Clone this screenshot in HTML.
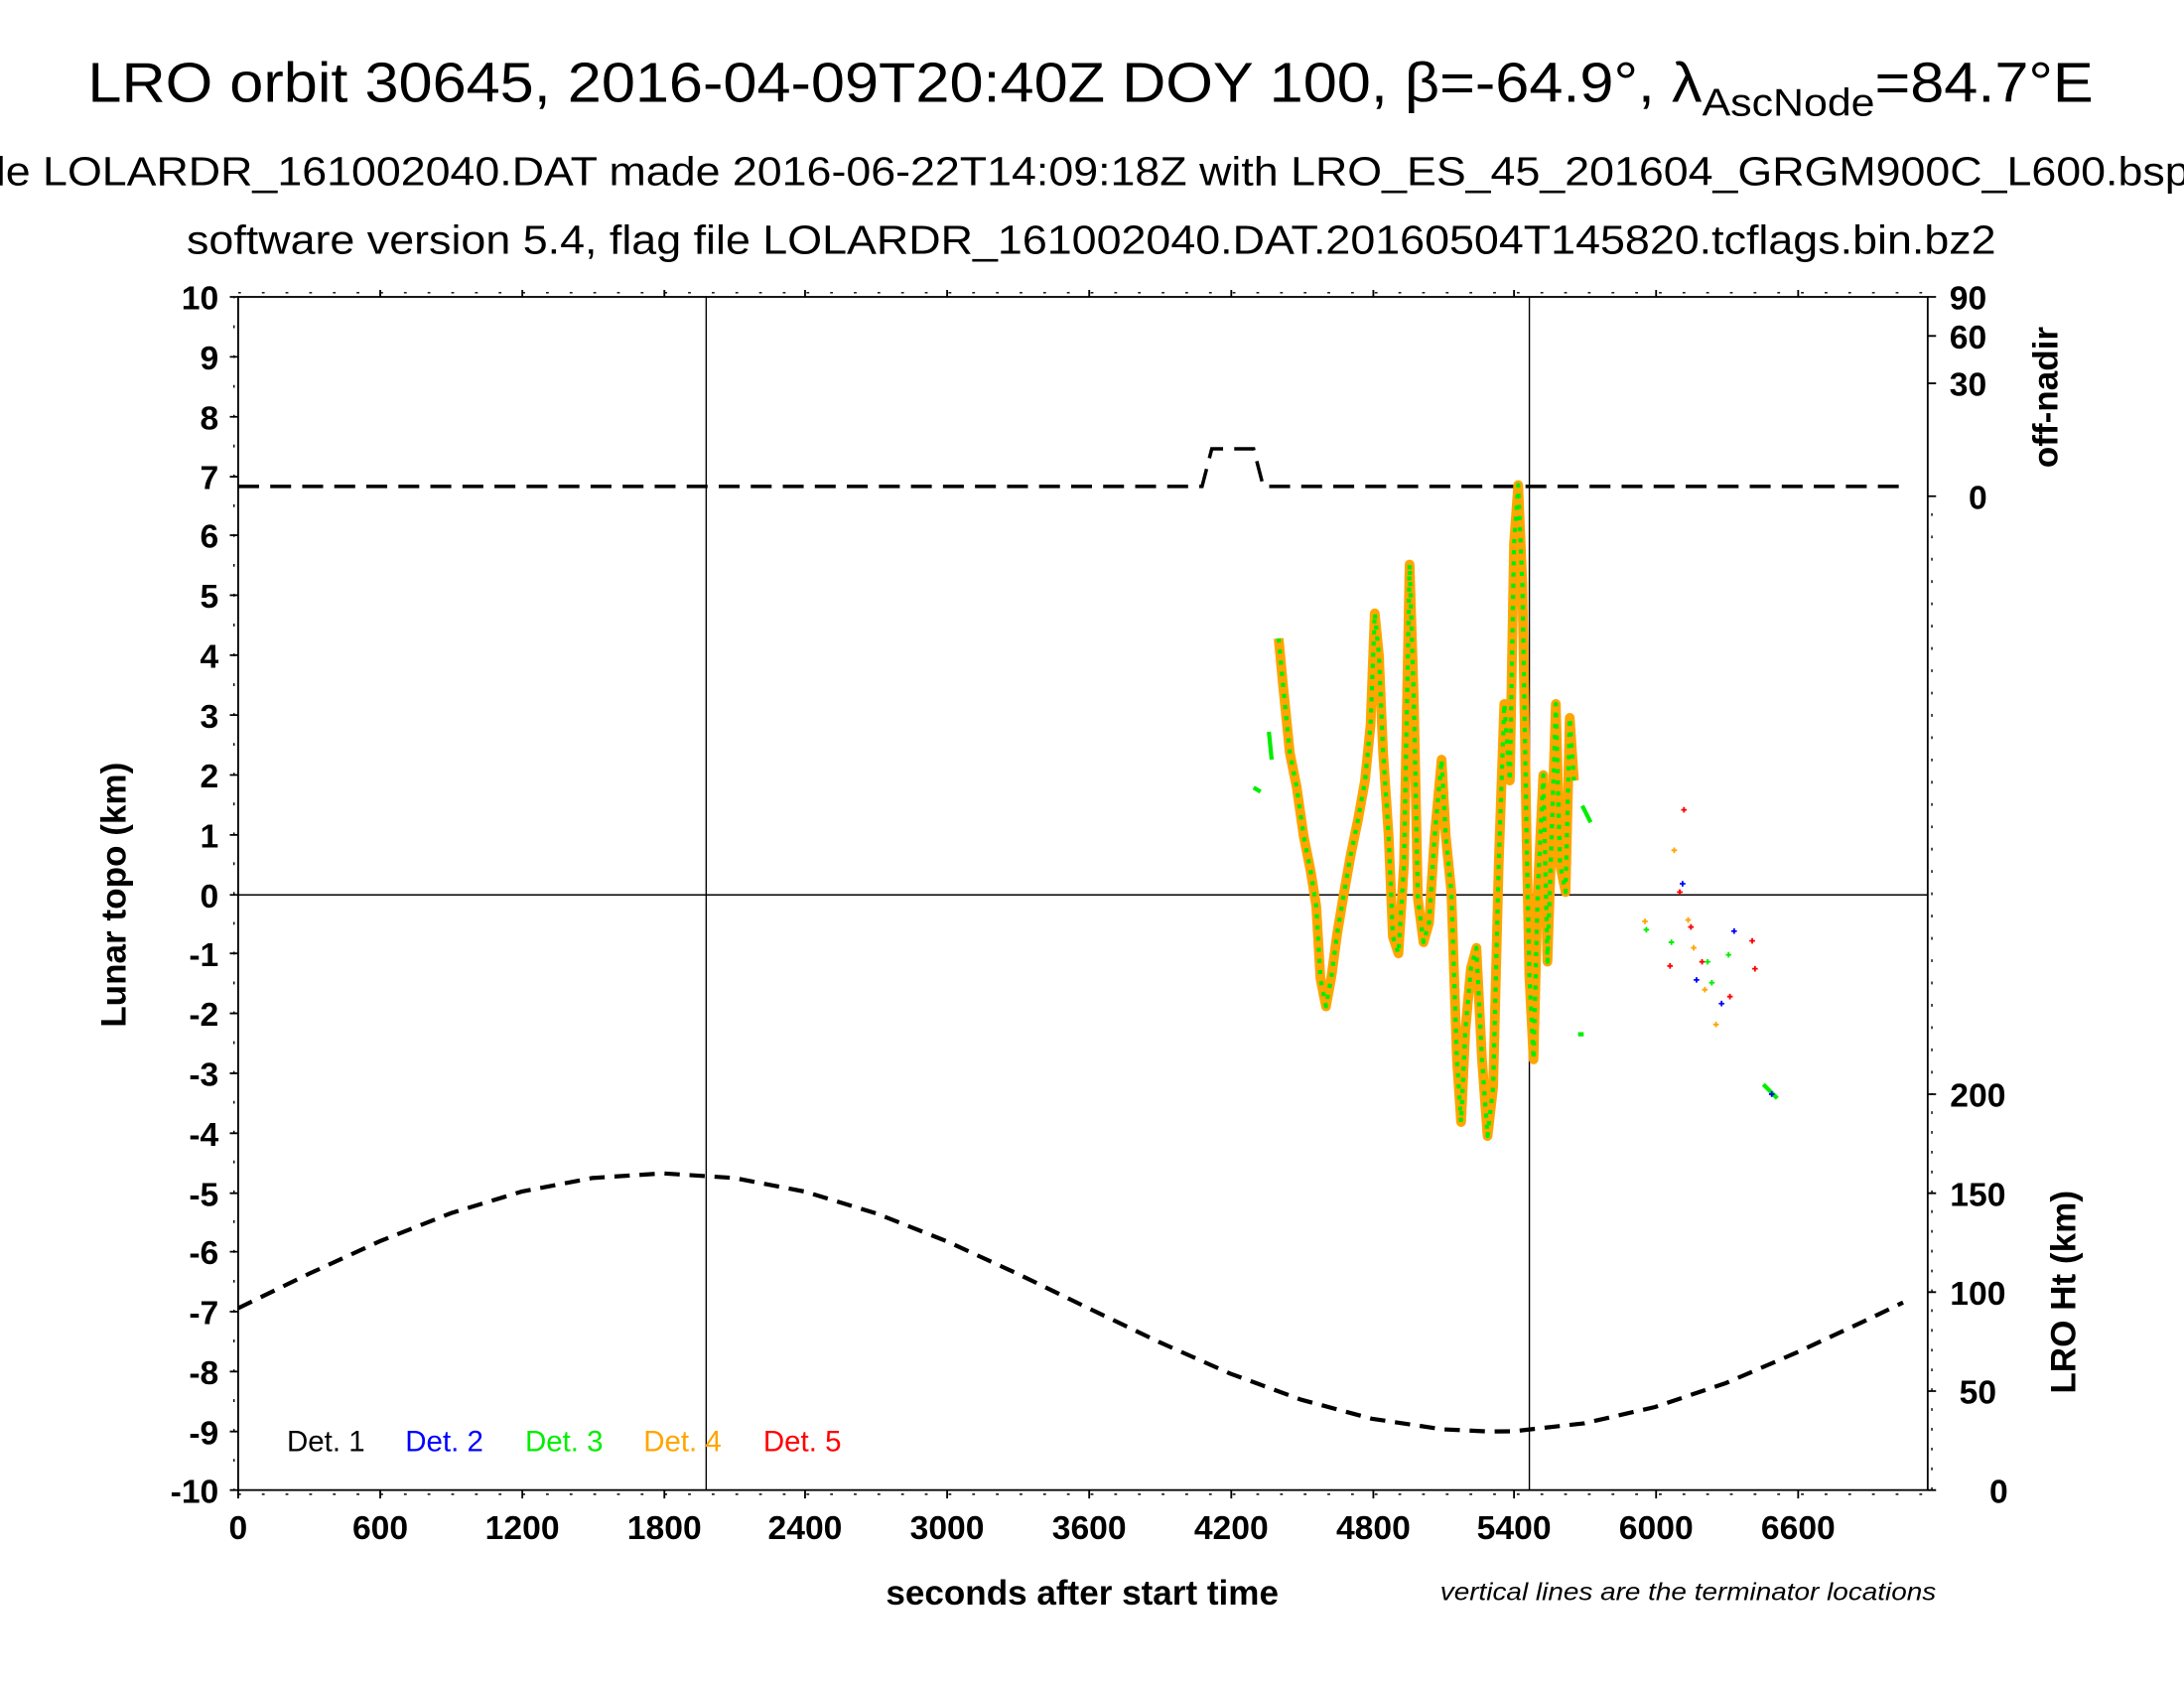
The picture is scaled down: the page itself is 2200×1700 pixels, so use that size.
<!DOCTYPE html>
<html><head><meta charset="utf-8"><style>html,body{margin:0;padding:0;background:#fff;overflow:hidden}svg{display:block}</style></head>
<body>
<svg width="2200" height="1700" viewBox="0 0 1568 1211" preserveAspectRatio="none" xmlns="http://www.w3.org/2000/svg" font-family="Liberation Sans, sans-serif">
<rect width="1568" height="1211" fill="#fff"/>
<text x="63" y="73" font-size="40" textLength="1440" lengthAdjust="spacingAndGlyphs">LRO orbit 30645, 2016-04-09T20:40Z DOY 100, β=-64.9°, λ<tspan font-size="28" dy="10">AscNode</tspan><tspan dy="-10">=84.7°E</tspan></text>
<text x="-3" y="133" font-size="29" textLength="1575" lengthAdjust="spacingAndGlyphs">le LOLARDR_161002040.DAT made 2016-06-22T14:09:18Z with LRO_ES_45_201604_GRGM900C_L600.bsp</text>
<text x="134" y="182" font-size="29" textLength="1299" lengthAdjust="spacingAndGlyphs">software version 5.4, flag file LOLARDR_161002040.DAT.20160504T145820.tcflags.bin.bz2</text>
<g stroke="#000" stroke-width="1">
<line x1="507" y1="213" x2="507" y2="1069"/>
<line x1="1098" y1="213" x2="1098" y2="1069"/>
<line x1="171" y1="642" x2="1384" y2="642"/>
</g>
<rect x="171" y="213" width="1213" height="856" fill="none" stroke="#000" stroke-width="1.3"/>
<g stroke="#000" stroke-width="1.3">
<path d="M171 213h-6M171 256h-6M171 299h-6M171 342h-6M171 384h-6M171 427h-6M171 470h-6M171 513h-6M171 556h-6M171 599h-6M171 642h-6M171 684h-6M171 727h-6M171 770h-6M171 813h-6M171 856h-6M171 898h-6M171 941h-6M171 984h-6M171 1027h-6M171 1069h-6"/>
<path d="M171 1069v6M273 1069v6M375 1069v6M477 1069v6M578 1069v6M680 1069v6M782 1069v6M884 1069v6M986 1069v6M1087 1069v6M1189 1069v6M1291 1069v6M273 213v-5M375 213v-5M477 213v-5M578 213v-5M680 213v-5M782 213v-5M884 213v-5M986 213v-5M1087 213v-5M1189 213v-5M1291 213v-5"/>
<path d="M1384 213h6M1384 241h6M1384 275h6M1384 356h6M1384 785h6M1384 856h6M1384 927h6M1384 998h6M1384 1069h6"/>
</g>
<g stroke="#000" stroke-width="1" stroke-dasharray="2 15" stroke-dashoffset="-17">
<line x1="171" y1="1072" x2="1384" y2="1072"/>
<line x1="171" y1="210" x2="1384" y2="210"/>
</g>
<g stroke="#000" stroke-width="1" stroke-dasharray="2 19.4" stroke-dashoffset="-20.4">
<line x1="168" y1="213" x2="168" y2="1069"/>
</g>
<g stroke="#000" stroke-width="1" stroke-dasharray="2 12.2" stroke-dashoffset="-12.2">
<line x1="1387" y1="785" x2="1387" y2="1069"/>
<line x1="1387" y1="356" x2="1387" y2="785" stroke-dasharray="2 14"/>
</g>
<g font-size="24" font-weight="bold" text-anchor="end">
<text x="157" y="222">10</text><text x="157" y="265">9</text><text x="157" y="308">8</text><text x="157" y="351">7</text><text x="157" y="393">6</text><text x="157" y="436">5</text><text x="157" y="479">4</text><text x="157" y="522">3</text><text x="157" y="565">2</text><text x="157" y="608">1</text><text x="157" y="651">0</text><text x="157" y="693">-1</text><text x="157" y="736">-2</text><text x="157" y="779">-3</text><text x="157" y="822">-4</text><text x="157" y="865">-5</text><text x="157" y="907">-6</text><text x="157" y="950">-7</text><text x="157" y="993">-8</text><text x="157" y="1036">-9</text><text x="157" y="1078">-10</text>
</g>
<g font-size="24" font-weight="bold" text-anchor="middle">
<text x="171" y="1104">0</text><text x="273" y="1104">600</text><text x="375" y="1104">1200</text><text x="477" y="1104">1800</text><text x="578" y="1104">2400</text><text x="680" y="1104">3000</text><text x="782" y="1104">3600</text><text x="884" y="1104">4200</text><text x="986" y="1104">4800</text><text x="1087" y="1104">5400</text><text x="1189" y="1104">6000</text><text x="1291" y="1104">6600</text>
</g>
<g font-size="24" font-weight="bold" text-anchor="middle">
<text x="1413" y="222">90</text><text x="1413" y="250">60</text><text x="1413" y="284">30</text><text x="1420" y="365">0</text>
<text x="1420" y="794">200</text><text x="1420" y="865">150</text><text x="1420" y="936">100</text><text x="1420" y="1007">50</text><text x="1435" y="1078">0</text>
</g>
<text x="777" y="1151" font-size="25" font-weight="bold" text-anchor="middle">seconds after start time</text>
<text x="1212" y="1148" font-size="18" font-style="italic" text-anchor="middle" textLength="356" lengthAdjust="spacingAndGlyphs">vertical lines are the terminator locations</text>
<text transform="translate(90,642) rotate(-90)" font-size="25" font-weight="bold" text-anchor="middle">Lunar topo (km)</text>
<text transform="translate(1477,285) rotate(-90)" font-size="25" font-weight="bold" text-anchor="middle">off-nadir</text>
<text transform="translate(1490,927) rotate(-90)" font-size="25" font-weight="bold" text-anchor="middle">LRO Ht (km)</text>
<g font-size="21">
<text x="206" y="1041" fill="#000">Det. 1</text>
<text x="291" y="1041" fill="#0000ff">Det. 2</text>
<text x="377" y="1041" fill="#00ee00">Det. 3</text>
<text x="462" y="1041" fill="#ffa500">Det. 4</text>
<text x="548" y="1041" fill="#ff0000">Det. 5</text>
</g>
<path d="M171 349H863L870 322H900L907 349H1364" fill="none" stroke="#000" stroke-width="2.5" stroke-dasharray="15 8"/>
<path fill="none" stroke="#000" stroke-width="3" stroke-dasharray="11 7"
d="M171 938.5 L221.9 913.8 L272.7 890.5 L323.6 870.4 L374.5 854.9 L425.3 845.1 L476.2 841.8 L527.1 845.1 L577.9 854.9 L628.8 870.4 L679.7 890.5 L730.5 913.8 L781.4 938.5 L832.2 962.8 L883.1 985.4 L934 1004.1 L984.8 1017.8 L1035.7 1025.4 L1069.6 1027 L1086.6 1026.8 L1137.4 1021.1 L1188.3 1009.4 L1239.2 992.2 L1290 970.3 L1340.9 946.7 L1366.3 934.4"/>
<g fill="none" stroke-linejoin="round">
<path stroke="#ffa500" stroke-width="7" d="M918 458L921 490L926 540L931 565L936 600L941 625L945 650L948 702L952 722L956 700L960 670L965 640L970 612L975 588L980 560L984 520L987 440L990 470L993 540L997 600L1000 672L1004 684L1008 620L1012 405L1015 500L1018 645L1022 676L1026 662L1030 600L1035 545L1038 600L1042 640L1046 760L1049 805L1052 740L1056 695L1060 680L1064 760L1068 815L1072 780L1076 620L1080 505L1084 560L1087 390L1090 348L1093 420L1096 600L1098 700L1101 760L1104 640L1108 556L1111 690L1114 600L1117 505L1120 620L1124 640L1127 515L1130 560"/>
<path stroke="#00ee00" stroke-width="3" stroke-dasharray="3 5" d="M918 458L921 490L926 540L931 565L936 600L941 625L945 650L948 702L952 722L956 700L960 670L965 640L970 612L975 588L980 560L984 520L987 440L990 470L993 540L997 600L1000 672L1004 684L1008 620L1012 405L1015 500L1018 645L1022 676L1026 662L1030 600L1035 545L1038 600L1042 640L1046 760L1049 805L1052 740L1056 695L1060 680L1064 760L1068 815L1072 780L1076 620L1080 505L1084 560L1087 390L1090 348L1093 420L1096 600L1098 700L1101 760L1104 640L1108 556L1111 690L1114 600L1117 505L1120 620L1124 640L1127 515L1130 560"/>
<path stroke="#00ee00" stroke-width="3" d="M900 565L905 568M1136 578L1142 590M1133 742L1137 742M1266 778L1276 788M911 525L913 545"/>
</g>
<g stroke-width="1.3">
<path stroke="#ff0000" d="M1197 693h4M1199 691v4M1204 640h4M1206 638v4M1212 665h4M1214 663v4M1220 690h4M1222 688v4M1240 715h4M1242 713v4M1256 675h4M1258 673v4M1258 695h4M1260 693v4M1207 581h4M1209 579v4"/>
<path stroke="#0000ff" d="M1206 634h4M1208 632v4M1216 703h4M1218 701v4M1234 720h4M1236 718v4M1243 668h4M1245 666v4M1270 785h4M1272 783v4"/>
<path stroke="#00ee00" d="M1198 676h4M1200 674v4M1227 705h4M1229 703v4M1239 685h4M1241 683v4M1180 667h4M1182 665v4M1224 690h4M1226 688v4"/>
<path stroke="#ffa500" d="M1179 661h4M1181 659v4M1200 610h4M1202 608v4M1210 660h4M1212 658v4M1222 710h4M1224 708v4M1230 735h4M1232 733v4M1214 680h4M1216 678v4"/>
</g>
</svg>
</body></html>
